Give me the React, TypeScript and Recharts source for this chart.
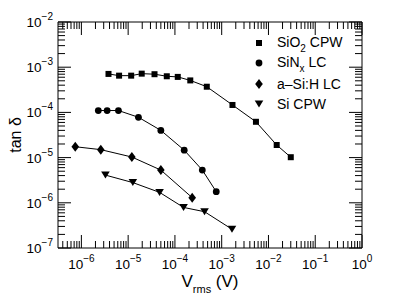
import React from "react";
import { ScatterChart, Scatter, XAxis, YAxis, Legend, ReferenceLine } from "recharts";

// data (V_rms in volts, tan delta)
const sio2X = [3.8e-6, 6.4e-6, 1.16e-5, 1.95e-5, 3.66e-5, 6.7e-5, 1.15e-4, 2.13e-4, 4.8e-4, 1.7e-3, 5.4e-3, 1.5e-2, 3.0e-2];
const sio2Y = [7.1e-4, 6.5e-4, 6.5e-4, 7.2e-4, 7.0e-4, 6.3e-4, 6.1e-4, 5.1e-4, 3.7e-4, 1.46e-4, 6.2e-5, 1.9e-5, 1.02e-5];

const sinX = [2.3e-6, 3.55e-6, 6.2e-6, 1.66e-5, 5.0e-5, 1.58e-4, 3.85e-4, 7.65e-4];
const sinY = [1.1e-4, 1.1e-4, 1.1e-4, 7.8e-5, 4.0e-5, 1.46e-5, 5.3e-6, 1.76e-6];

const asiX = [7.4e-7, 2.6e-6, 1.2e-5, 5.0e-5, 2.34e-4];
const asiY = [1.74e-5, 1.5e-5, 1.03e-5, 5.3e-6, 1.3e-6];

const siX = [3.27e-6, 1.26e-5, 4.7e-5, 1.53e-4, 4.3e-4, 1.66e-3];
const siY = [4.1e-6, 2.8e-6, 1.7e-6, 7.9e-7, 6.35e-7, 2.6e-7];

const xMajor = [1e-6, 1e-5, 1e-4, 1e-3, 1e-2, 1e-1, 1];
const yMajor = [1e-7, 1e-6, 1e-5, 1e-4, 1e-3, 1e-2];
const xDomain = [Math.pow(10, -6.5), 1];
const yDomain = [1e-7, 1e-2];

const FONT = "'Liberation Sans', Arial, sans-serif";

const W = 391;
const H = 291;
const M = { top: 13, right: 36, bottom: 0, left: 0 };
const plotW = W - M.left - M.right - 50 - 1;
const plotH = H - M.top - M.bottom - 51 - 1;

const zip = (xs: number[], ys: number[]) => xs.map((x, i) => ({ x, y: ys[i] }));

// log ticks: decades + 2..9 in between, kept inside the domain
const withMinors = (majors: number[], lo: number, hi: number) => {
  const out: number[] = [];
  const first = majors[0] / 10;
  [first, ...majors].forEach((m) => {
    for (let k = 1; k <= 9; k++) {
      const v = m * k;
      if (v >= lo * 0.999 && v <= hi * 1.001) out.push(v);
    }
  });
  return Array.from(new Set(out)).sort((a, b) => a - b);
};
const xTicks = withMinors(xMajor, xDomain[0], xDomain[1]);
const yTicks = withMinors(yMajor, yDomain[0], yDomain[1]);

const isMajor = (v: number) => {
  const l = Math.log10(v);
  return Math.abs(l - Math.round(l)) < 1e-6;
};
const expOf = (v: number) => {
  const e = Math.round(Math.log10(v));
  return e < 0 ? `\u2212${-e}` : `${e}`;
};

const tickLen = (v: number) => (isMajor(v) ? 13 : 7);
// pixel length -> multiplicative factor on each log axis
const xDecades = Math.log10(xDomain[1] / xDomain[0]);
const yDecades = Math.log10(yDomain[1] / yDomain[0]);
const xFac = (px: number) => Math.pow(10, (px * xDecades) / plotW);
const yFac = (px: number) => Math.pow(10, (px * yDecades) / plotH);

const BottomLabel = (p: any) => {
  const { x, y, payload } = p;
  if (!isMajor(payload.value)) return <g />;
  return (
    <text x={x} y={Number(y) + 20.5} textAnchor="middle" fontFamily={FONT} fontSize={13.5} fill="#000">
      10<tspan dy={-7} fontSize={10}>{expOf(payload.value)}</tspan>
    </text>
  );
};

const LeftLabel = (p: any) => {
  const { x, y, payload } = p;
  if (!isMajor(payload.value)) return <g />;
  return (
    <text x={Number(x) - 5} y={Number(y) + 5} textAnchor="end" fontFamily={FONT} fontSize={13.5} fill="#000">
      10<tspan dy={-7} fontSize={10}>{expOf(payload.value)}</tspan>
    </text>
  );
};

const Square = (p: any) => <rect x={p.cx - 3} y={p.cy - 3} width={6} height={6} fill="#000" />;
const Dot = (p: any) => <circle cx={p.cx} cy={p.cy} r={3.4} fill="#000" />;
const Diamond = (p: any) => (
  <polygon points={`${p.cx},${p.cy - 5} ${p.cx + 3.8},${p.cy} ${p.cx},${p.cy + 5} ${p.cx - 3.8},${p.cy}`} fill="#000" />
);
const TriDown = (p: any) => (
  <polygon points={`${p.cx - 4.3},${p.cy - 3.5} ${p.cx + 4.3},${p.cy - 3.5} ${p.cx},${p.cy + 3.5}`} fill="#000" />
);
const Nothing = () => <g />;

const legendItems = [
  { main: "SiO", sub: "2", rest: " CPW", Shape: Square },
  { main: "SiN", sub: "x", rest: " LC", Shape: Dot },
  { main: "a\u2013Si:H LC", sub: "", rest: "", Shape: Diamond },
  { main: "Si CPW", sub: "", rest: "", Shape: TriDown },
];

const LegendBox = () => (
  <div style={{ fontFamily: FONT, fontSize: 14, color: "#000" }}>
    {legendItems.map(({ main, sub, rest, Shape }) => (
      <div key={main} style={{ height: 20.5, display: "flex", alignItems: "center", whiteSpace: "nowrap" }}>
        <svg width={26} height={20} style={{ flex: "none" }}>
          <Shape cx={8} cy={10} />
        </svg>
        <span style={{ lineHeight: "20px" }}>
          {main}
          {sub && <span style={{ fontSize: 10, position: "relative", top: 5 }}>{sub}</span>}
          {rest}
        </span>
      </div>
    ))}
  </div>
);

const XTitle = (p: any) => {
  const vb = p.viewBox;
  const cx = vb.x + vb.width / 2;
  return (
    <text x={cx} y={vb.y + 39} textAnchor="middle" fontFamily={FONT} fill="#000">
      <tspan fontSize={17}>V</tspan>
      <tspan fontSize={11} dy={6}>rms</tspan>
      <tspan fontSize={17} dy={-6}> (V)</tspan>
    </text>
  );
};

const YTitle = (p: any) => {
  const vb = p.viewBox;
  const cy = vb.y + vb.height / 2;
  return (
    <text x={13} y={cy} transform={`rotate(-90 13 ${cy})`} textAnchor="middle" fontFamily={FONT} fontSize={16} fill="#000">
      tan δ
    </text>
  );
};

const seriesLine = { stroke: "#000", strokeWidth: 1 };

// inward tick marks on all four sides, as reference segments in data space
const tickSegments = [
  ...xTicks.map((v) => [{ x: v, y: yDomain[0] }, { x: v, y: yDomain[0] * yFac(tickLen(v)) }]),
  ...xTicks.map((v) => [{ x: v, y: yDomain[1] }, { x: v, y: yDomain[1] / yFac(tickLen(v)) }]),
  ...yTicks.map((v) => [{ x: xDomain[0], y: v }, { x: xDomain[0] * xFac(tickLen(v)), y: v }]),
  ...yTicks.map((v) => [{ x: xDomain[1], y: v }, { x: xDomain[1] / xFac(tickLen(v)), y: v }]),
];

export default function App() {
  return (
    <ScatterChart width={W} height={H} margin={M}>
      <XAxis
        dataKey="x"
        type="number"
        scale="log"
        domain={xDomain}
        allowDataOverflow
        ticks={xTicks}
        interval={0}
        tick={<BottomLabel />}
        tickLine={false}
        tickSize={0}
        tickMargin={0}
        height={51}
        axisLine={{ stroke: "#000" }}
        label={{ content: XTitle }}
      />
      <XAxis
        xAxisId="top"
        dataKey="x"
        orientation="top"
        type="number"
        scale="log"
        domain={xDomain}
        allowDataOverflow
        ticks={xTicks}
        tick={false}
        tickLine={false}
        height={1}
        axisLine={{ stroke: "#000" }}
      />
      <YAxis
        dataKey="y"
        type="number"
        scale="log"
        domain={yDomain}
        allowDataOverflow
        ticks={yTicks}
        interval={0}
        tick={<LeftLabel />}
        tickLine={false}
        tickSize={0}
        tickMargin={0}
        width={50}
        axisLine={{ stroke: "#000" }}
        label={{ content: YTitle }}
      />
      <YAxis
        yAxisId="right"
        dataKey="y"
        orientation="right"
        type="number"
        scale="log"
        domain={yDomain}
        allowDataOverflow
        ticks={yTicks}
        tick={false}
        tickLine={false}
        width={1}
        axisLine={{ stroke: "#000" }}
      />
      {tickSegments.map((seg, i) => (
        <ReferenceLine key={i} segment={seg} stroke="#000" strokeWidth={1} ifOverflow="visible" />
      ))}
      <Legend
        layout="horizontal"
        align="center"
        verticalAlign="middle"
        content={<LegendBox />}
        wrapperStyle={{ left: 243, top: 24.5, width: 130 }}
      />
      {/* invisible series so the mirrored top/right axes get drawn */}
      <Scatter xAxisId="top" yAxisId="right" data={zip(sio2X, sio2Y)} shape={Nothing} legendType="none" isAnimationActive={false} />
      <Scatter name="SiO2 CPW" data={zip(sio2X, sio2Y)} shape={Square} line={seriesLine} isAnimationActive={false} />
      <Scatter name="SiNx LC" data={zip(sinX, sinY)} shape={Dot} line={seriesLine} isAnimationActive={false} />
      <Scatter name="a-Si:H LC" data={zip(asiX, asiY)} shape={Diamond} line={seriesLine} isAnimationActive={false} />
      <Scatter name="Si CPW" data={zip(siX, siY)} shape={TriDown} line={seriesLine} isAnimationActive={false} />
    </ScatterChart>
  );
}
